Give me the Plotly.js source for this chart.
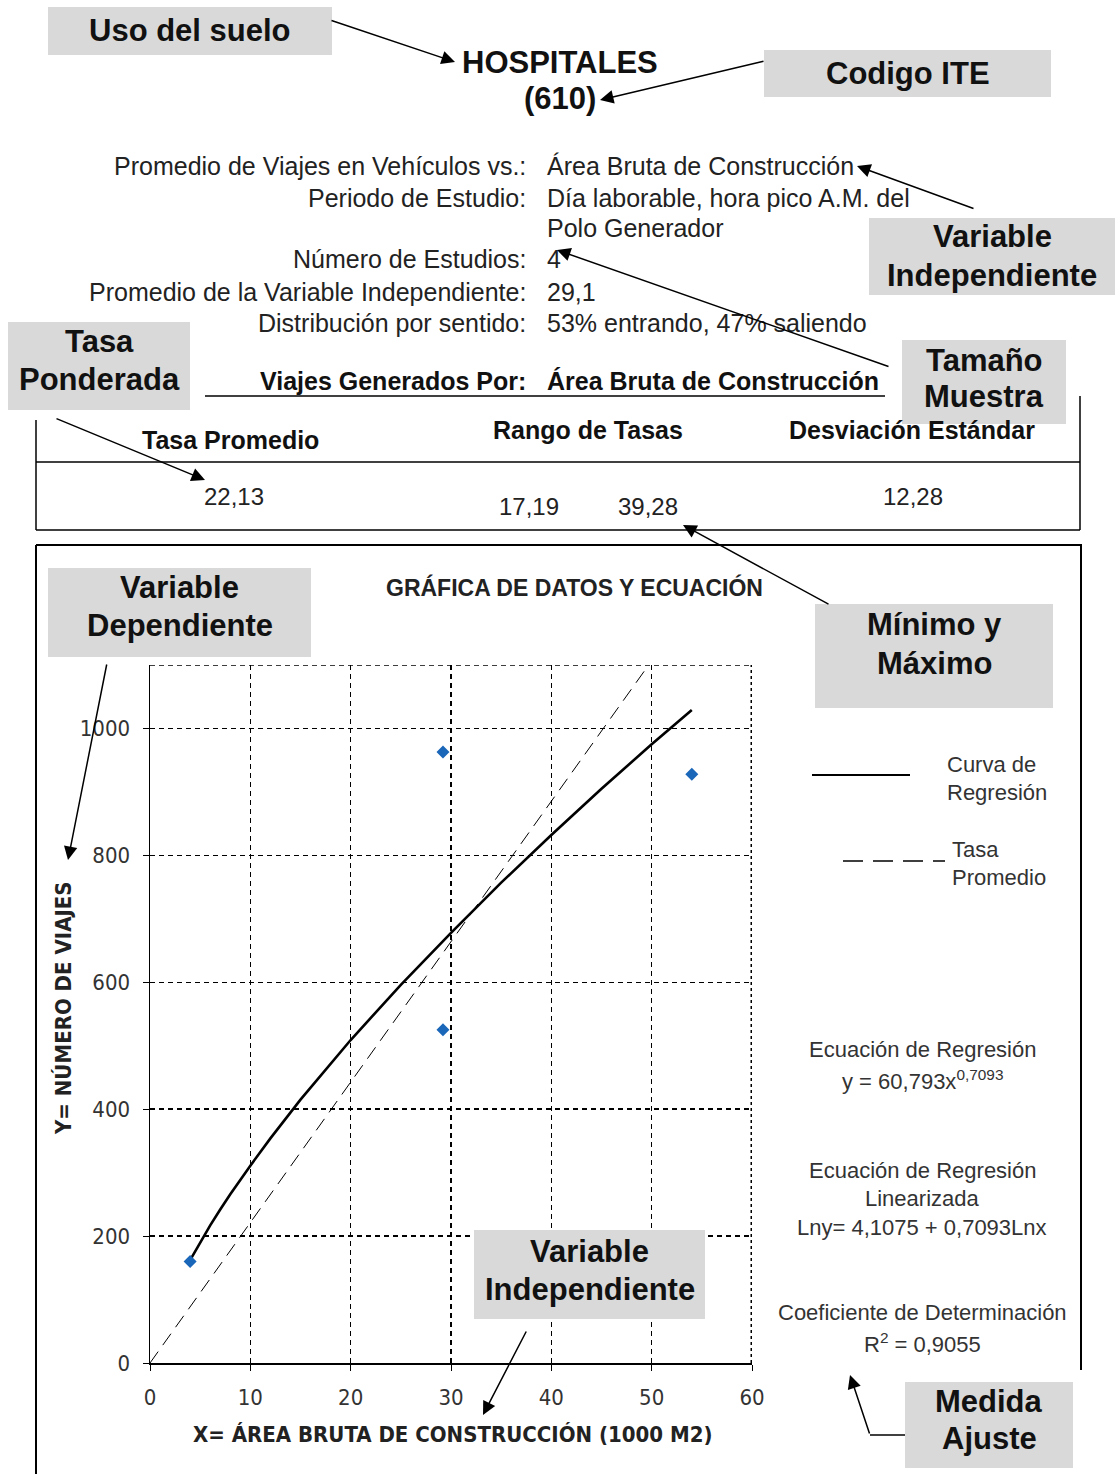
<!DOCTYPE html>
<html><head><meta charset="utf-8">
<script src="https://cdn.plot.ly/plotly-3.0.1.min.js"></script>
<style>html,body{margin:0;padding:0;background:#fff;}#chart{width:1115px;height:1474px;}</style>
</head><body><div id="chart"></div>
<script>
// ---- data ----
const obsX = [4, 29.2, 29.2, 54];
const obsY = [160, 963, 525, 928];
const curveX = [4, 5, 6, 7, 8, 10, 12, 15, 20, 25, 30, 35, 40, 45, 50, 54];
const curveY = [162, 190, 217, 242, 266, 311, 354, 415, 509, 596, 678, 757, 832, 905, 975, 1029];
const rateX = [0, 49.7];
const rateY = [0, 1100];
const xTicks = [0, 10, 20, 30, 40, 50, 60];
const yTicks = [0, 200, 400, 600, 800, 1000];

const infoLabels = ['Promedio de Viajes en Vehículos vs.:', 'Periodo de Estudio:', '', 'Número de Estudios:', 'Promedio de la Variable Independiente:', 'Distribución por sentido:'];
const infoValues = ['Área Bruta de Construcción', 'Día laborable, hora pico A.M. del', 'Polo Generador', '4', '29,1', '53% entrando, 47% saliendo'];
const tableHeaders = ['Tasa Promedio', 'Rango de Tasas', 'Desviación Estándar'];
const tableValues = ['22,13', '17,19', '39,28', '12,28'];

// ---- helpers: pixel -> paper ----
const W = 1115, H = 1474;
const P = x => x / W;
const Q = y => 1 - y / H;
const SANS = 'Liberation Sans, Arial, sans-serif';
const NARROW = 'Liberation Sans Narrow, Arial Narrow, DejaVu Sans Condensed, sans-serif';

const annotations = [];
const shapes = [];
function txt(x, y, text, size, opts) {
  opts = opts || {};
  annotations.push(Object.assign({
    xref: 'paper', yref: 'paper', x: P(x), y: Q(y), text: text, showarrow: false,
    xanchor: 'center', yanchor: 'middle',
    font: {family: opts.family || SANS, size: size, color: opts.color || '#111', weight: opts.bold ? 'bold' : 'normal'}
  }, opts.extra || {}));
}
function line(x0, y0, x1, y1, w, dash, layer) {
  shapes.push({type: 'line', xref: 'paper', yref: 'paper', x0: P(x0), y0: Q(y0), x1: P(x1), y1: Q(y1),
    line: {color: '#000', width: w || 1.5, dash: dash || 'solid'}, layer: layer || 'above'});
}
function box(x0, y0, x1, y1) {
  shapes.push({type: 'rect', xref: 'paper', yref: 'paper', x0: P(x0), y0: Q(y0), x1: P(x1), y1: Q(y1),
    fillcolor: '#d9d9d9', line: {width: 0}, layer: 'above'});
}
function arrow(tx, ty, hx, hy) {
  annotations.push({xref: 'paper', yref: 'paper', x: P(hx), y: Q(hy), ax: tx - hx, ay: ty - hy,
    text: '', showarrow: true, arrowhead: 2, arrowsize: 1.8, arrowwidth: 1.5, arrowcolor: '#000', standoff: 0});
}
function label(x0, y0, x1, y1, lines, size) {
  box(x0, y0, x1, y1);
  const cx = (x0 + x1) / 2;
  if (lines.length === 1) {
    txt(cx, (y0 + y1) / 2, lines[0], size, {bold: true});
  } else {
    txt(cx, lines[0][1], lines[0][0], size, {bold: true});
    txt(cx, lines[1][1], lines[1][0], size, {bold: true});
  }
}

// ---- header ----
txt(560, 62, 'HOSPITALES', 31, {bold: true});
txt(560, 99, '(610)', 31, {bold: true});
label(48, 7, 332, 55, ['Uso del suelo'], 31);
label(764, 50, 1051, 97, ['Codigo ITE'], 31);
arrow(330, 20, 455, 62);
arrow(765, 61, 600, 100);

// ---- info block ----
const infoY = [166, 198, 228, 259, 292, 323];
infoLabels.forEach((t, i) => { if (t) txt(528, infoY[i], t, 25, {color: '#222', extra: {xanchor: 'right'}}); });
infoValues.forEach((t, i) => txt(545, infoY[i], t, 25, {color: '#222', extra: {xanchor: 'left'}}));
txt(528, 381, 'Viajes Generados Por:', 25, {bold: true, extra: {xanchor: 'right'}});
txt(545, 381, 'Área Bruta de Construcción', 25, {bold: true, extra: {xanchor: 'left'}});
line(205, 396, 885, 396, 1.5);

// ---- table ----
line(36, 420, 36, 530, 1.5);
line(1080, 396, 1080, 530, 1.5);
line(36, 462, 1080, 462, 1.5);
line(36, 530, 1080, 530, 1.5);
txt(230, 440, tableHeaders[0], 25, {bold: true});
txt(588, 430, tableHeaders[1], 25, {bold: true});
txt(912, 430, tableHeaders[2], 25, {bold: true});
txt(234, 496, tableValues[0], 24, {color: '#222'});
txt(529, 507, tableValues[1], 24, {color: '#222'});
txt(648, 507, tableValues[2], 24, {color: '#222'});
txt(913, 496, tableValues[3], 24, {color: '#222'});

label(869, 218, 1115, 295, [['Variable', 237], ['Independiente', 275]], 31);
label(902, 340, 1066, 424, [['Tamaño', 360], ['Muestra', 397]], 31);
label(8, 322, 190, 410, [['Tasa', 341], ['Ponderada', 379]], 31);
arrow(975, 209, 857, 166);
arrow(890, 367, 557, 250);
arrow(55, 418, 205, 480);

// ---- chart frame ----
line(36, 545, 1082, 545, 2);
line(36, 545, 36, 1474, 2);
line(1081, 545, 1081, 1370, 2);
txt(574, 588, 'GRÁFICA DE DATOS Y ECUACIÓN', 23, {bold: true, color: '#222'});
label(815, 604, 1053, 708, [['Mínimo y', 624], ['Máximo', 663]], 31);
arrow(830, 605, 683, 525);
label(48, 568, 311, 657, [['Variable', 587], ['Dependiente', 625]], 31);
arrow(107, 663, 68, 860);

// plot borders (top dashed, right dotted)
shapes.push({type: 'line', xref: 'x', yref: 'y', x0: 0, x1: 60, y0: 1100, y1: 1100, line: {color: '#000', width: 1.5, dash: '5px,4px'}, layer: 'below'});
shapes.push({type: 'line', xref: 'x', yref: 'y', x0: 60, x1: 60, y0: 0, y1: 1100, line: {color: '#000', width: 3, dash: 'dot'}, layer: 'below'});

// axis titles
txt(452, 1434, 'X= ÁREA BRUTA DE CONSTRUCCIÓN (1000 M2)', 22, {bold: true, family: NARROW, color: '#222'});
txt(63, 1008, 'Y= NÚMERO DE VIAJES', 22, {bold: true, family: NARROW, color: '#222', extra: {textangle: -90}});

label(474, 1230, 705, 1319, [['Variable', 1251], ['Independiente', 1289]], 31);
arrow(527, 1330, 483, 1415);

// legend
line(812, 775, 910, 775, 2);
line(843, 861, 945, 861, 1.5, '20px,10px');
txt(945, 764, 'Curva de', 22, {color: '#333', extra: {xanchor: 'left'}});
txt(945, 792, 'Regresión', 22, {color: '#333', extra: {xanchor: 'left'}});
txt(950, 849, 'Tasa', 22, {color: '#333', extra: {xanchor: 'left'}});
txt(950, 878, 'Promedio', 22, {color: '#333', extra: {xanchor: 'left'}});

// equations
txt(922, 1049, 'Ecuación de Regresión', 22, {color: '#333'});
txt(922, 1080, 'y = 60,793x<sup>0,7093</sup>', 22, {color: '#333'});
txt(922, 1170, 'Ecuación de Regresión', 22, {color: '#333'});
txt(922, 1198, 'Linearizada', 22, {color: '#333'});
txt(922, 1227, 'Lny= 4,1075 + 0,7093Lnx', 22, {color: '#333'});
txt(922, 1312, 'Coeficiente de Determinación', 22, {color: '#333'});
txt(922, 1343, 'R<sup>2</sup> = 0,9055', 22, {color: '#333'});

label(905, 1382, 1073, 1468, [['Medida', 1401], ['Ajuste', 1438]], 31);
line(870, 1435, 905, 1435, 1.5);
arrow(870, 1435, 850, 1375);

const traces = [
  {x: rateX, y: rateY, mode: 'lines', line: {color: '#000', width: 1, dash: '14px,8px'}, hoverinfo: 'skip'},
  {x: curveX, y: curveY, mode: 'lines', line: {color: '#000', width: 2.6}, hoverinfo: 'skip'},
  {x: obsX, y: obsY, mode: 'markers', marker: {symbol: 'diamond', size: 10, color: '#1a66b8'}}
];

const layout = {
  width: W, height: H, margin: {l: 0, r: 0, t: 0, b: 0},
  paper_bgcolor: '#fff', plot_bgcolor: '#fff', showlegend: false,
  xaxis: {domain: [P(150), P(752)], range: [0, 60], tickvals: xTicks, ticktext: xTicks.map(String),
    showgrid: true, gridcolor: '#000', griddash: '5px,4px', gridwidth: 1.4, zeroline: false,
    showline: true, linecolor: '#000', linewidth: 1.5, ticks: 'outside', ticklen: 6, tickcolor: '#000',
    ticklabelstandoff: 8, tickfont: {family: NARROW, size: 22, color: '#333'}, fixedrange: true},
  yaxis: {domain: [Q(1363), Q(665)], range: [0, 1100], tickvals: yTicks, ticktext: yTicks.map(String),
    showgrid: true, gridcolor: '#000', griddash: '5px,4px', gridwidth: 1.4, zeroline: false,
    showline: true, linecolor: '#000', linewidth: 1.5, ticks: 'outside', ticklen: 6, tickcolor: '#000',
    ticklabelstandoff: 8, tickfont: {family: NARROW, size: 22, color: '#333'}, fixedrange: true},
  shapes: shapes, annotations: annotations
};
Plotly.newPlot('chart', traces, layout, {displayModeBar: false, staticPlot: true});
</script></body></html>
